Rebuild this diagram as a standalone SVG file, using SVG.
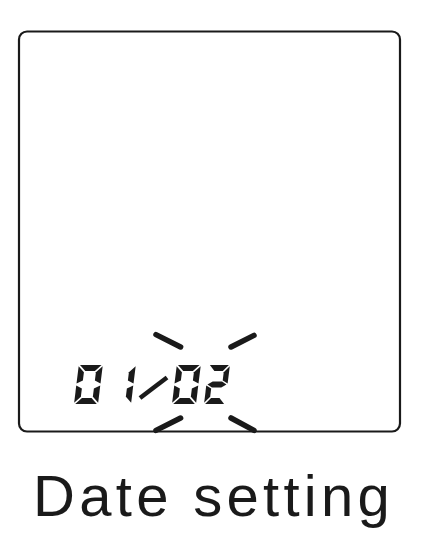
<svg xmlns="http://www.w3.org/2000/svg" width="432" height="538" viewBox="0 0 432 538">
<style>
.seg{fill:#1a1a1a}
.blink{stroke:#1a1a1a;stroke-width:5.5;stroke-linecap:round;fill:none}
.frame{fill:#fff;stroke:#1a1a1a;stroke-width:2.2}
.label{font-family:"Liberation Sans",Arial,sans-serif;font-size:58px;fill:#1a1a1a;letter-spacing:4.3px}
</style>
<defs>
<polygon id="sa" points="1.2,-39 22.8,-39 16.8,-33 7.2,-33"/>
<polygon id="sb" points="24,-37.8 24,-20.5 18,-23.5 18,-31.8"/>
<polygon id="sc" points="24,-18.5 24,-1.2 18,-7.2 18,-15.5"/>
<polygon id="sd" points="1.2,0 7.2,-6 16.8,-6 22.8,0"/>
<polygon id="se" points="0,-18.5 6,-15.5 6,-7.2 0,-1.2"/>
<polygon id="sf" points="0,-37.8 6,-31.8 6,-23.5 0,-20.5"/>
<polygon id="sg" points="1.2,-19.5 6.7,-22.5 17.3,-22.5 22.8,-19.5 17.3,-16.5 6.7,-16.5"/>
</defs>
<rect class="frame" x="19" y="31.5" width="381" height="400" rx="8"/>
<g id="digit-0a" class="seg" transform="translate(74,404) skewX(-7)">
<use href="#sa"/><use href="#sb"/><use href="#sc"/><use href="#sd"/><use href="#se"/><use href="#sf"/>
</g>
<g id="digit-1" class="seg" transform="translate(107,404) skewX(-7)">
<use href="#sb"/><use href="#sc"/>
</g>
<g id="slash"><line x1="140" y1="398" x2="167" y2="377.5" stroke="#1a1a1a" stroke-width="4.5"/></g>
<g id="digit-0b" class="seg" transform="translate(172,404) skewX(-7)">
<use href="#sa"/><use href="#sb"/><use href="#sc"/><use href="#sd"/><use href="#se"/><use href="#sf"/>
</g>
<g id="digit-2" class="seg" transform="translate(204,404) skewX(-7) scale(0.88,1)">
<use href="#sa"/><use href="#sb"/><use href="#sd"/><use href="#se"/><use href="#sg"/>
</g>
<g id="blink-marks">
<line class="blink" x1="156" y1="334.6" x2="180.6" y2="347"/>
<line class="blink" x1="231" y1="347" x2="254" y2="335.4"/>
<line class="blink" x1="156" y1="430.4" x2="180.6" y2="418"/>
<line class="blink" x1="231" y1="418" x2="254" y2="430.4"/>
</g>
<text class="label" x="33" y="516">Date setting</text>
</svg>
